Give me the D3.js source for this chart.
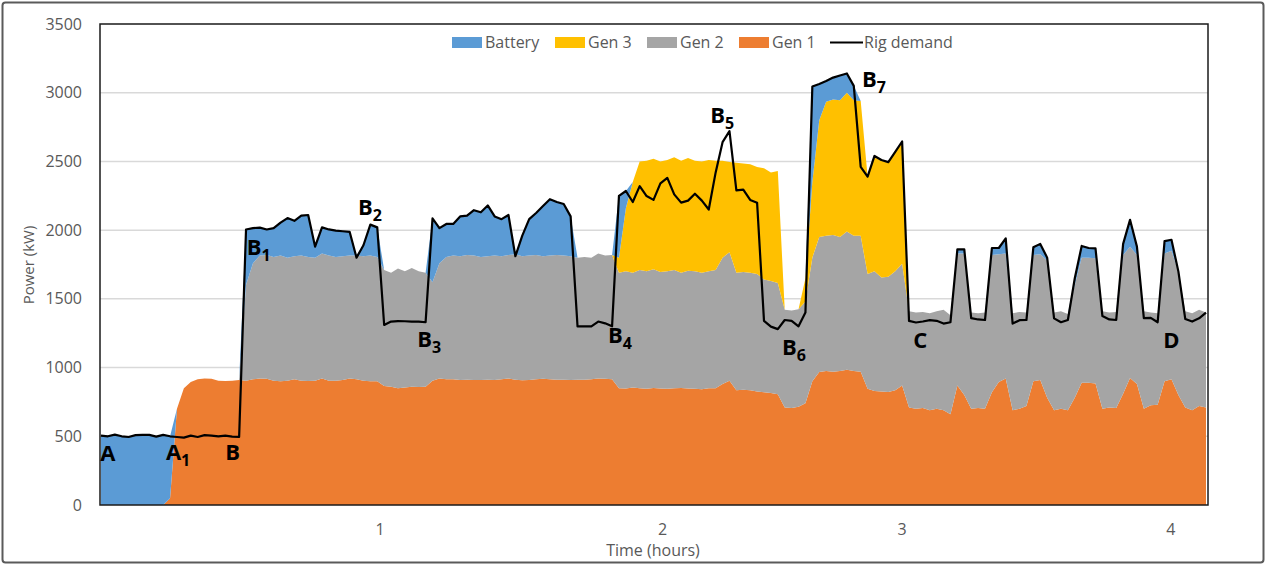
<!DOCTYPE html>
<html><head><meta charset="utf-8">
<script src="https://cdn.jsdelivr.net/npm/d3@7"></script>
<style>
body{margin:0;background:#fff;}
svg{display:block;font-family:"Open Sans","DejaVu Sans",sans-serif;}
</style>
</head><body>
<svg id="chart" width="1267" height="567"></svg>
<script>
// ---- data (kW per sample) ----
const gen1 = [0,0,0,0,0,0,0,0,0,0,
  50,700,850,895,915,920,918,905,902,905,910,
  905,915,920,918,905,900,905,915,905,902,905,920,905,905,910,920,915,905,900,900,
  865,860,850,855,860,858,860,
  905,920,915,915,910,912,910,910,912,910,915,920,912,908,910,915,918,915,912,912,910,912,912,915,920,918,915,
  850,848,855,850,845,852,848,845,850,852,848,845,842,850,850,880,905,835,838,835,825,820,815,805,
  710,705,715,740,900,968,975,970,975,985,975,970,845,830,825,822,835,870,
  710,700,705,690,700,690,660,870,800,700,705,700,820,895,920,690,700,720,900,910,780,690,700,690,780,890,890,885,700,710,705,810,925,880,700,725,730,900,915,800,710,690,720,710];
const gen2 = [0,0,0,0,0,0,0,0,0,0,0,0,0,0,0,0,0,0,0,0,0,
  695,845,895,902,900,915,895,895,910,903,895,910,910,900,900,895,900,905,915,905,
  845,830,870,845,865,842,830,
  715,840,890,900,900,908,905,895,898,905,895,900,913,902,905,905,892,900,908,903,900,888,893,885,910,897,905,
  840,852,835,860,855,863,847,855,860,838,857,855,848,850,860,920,935,855,857,855,855,820,815,810,
  710,710,710,740,900,982,985,995,975,1005,985,990,835,870,830,838,865,885,
  700,700,700,705,710,730,720,960,1030,700,690,700,1000,930,910,705,705,680,920,915,1000,710,710,700,820,910,910,910,710,690,700,1010,955,940,710,675,665,930,935,900,700,705,700,690];
const gen3 = [0,0,0,0,0,0,0,0,0,0,0,0,0,0,0,0,0,0,0,0,0,0,0,0,0,
  0,0,0,0,0,0,0,0,0,0,0,0,0,0,0,0,0,0,0,0,0,0,0,0,0,
  0,0,0,0,0,0,0,0,0,0,0,0,0,0,0,0,0,0,0,0,0,0,0,0,0,
  110,460,660,790,805,805,805,810,820,815,820,805,810,810,795,705,655,800,790,790,780,810,790,815,
  0,0,0,
  170,550,850,975,985,995,1010,985,980,710,830,850,830,865,885,
  0,0,0,0,0,0,0,0,0,0,0,0,0,0,0,0,0,0,0,0,0,0,0,0,0,0,0,0,0,0,0,0,0,0,0,0,0,0,0,0,0,0,0,0];
const battery = [505,500,512,500,495,508,510,510,498,510,
  450,0,0,0,0,0,0,0,0,0,0,
  405,255,203,185,210,240,288,258,290,305,80,190,190,192,182,173,0,80,225,215,
  0,0,0,0,0,0,0,
  465,255,240,230,290,285,330,325,370,285,270,290,0,150,265,305,365,410,385,375,290,0,0,0,0,0,0,
  450,125,0,0,0,0,0,0,0,0,0,0,0,0,0,0,0,0,0,0,0,0,0,0,0,0,0,
  0,695,264,150,160,180,140,105,0,
  0,0,0,0,0,0,0,0,0,0,0,0,0,
  30,30,0,0,0,50,45,110,0,0,0,55,75,20,0,0,0,50,85,70,73,0,0,0,80,195,60,0,0,0,90,80,0,0,0,0,0];
const rigDemand = [505,500,512,500,495,508,510,510,498,510,500,495,490,505,495,508,505,500,505,498,495,
  2005,2015,2018,2005,2015,2055,2088,2068,2105,2110,1880,2020,2005,1997,1992,1988,1800,1890,2040,2020,
  1310,1335,1338,1337,1334,1335,1330,
  2085,2015,2045,2045,2100,2105,2145,2130,2180,2100,2080,2110,1810,1960,2080,2125,2175,2225,2205,2190,2100,1300,1300,1300,1335,1322,1300,
  2250,2285,2205,2320,2248,2220,2340,2380,2260,2200,2215,2265,2215,2150,2420,2640,2720,2290,2295,2220,2200,1340,1298,1280,1346,1340,1300,
  1400,3045,3064,3085,3110,3125,3140,3050,2460,2390,2540,2510,2495,2570,2645,
  1340,1328,1335,1345,1340,1320,1330,1860,1860,1360,1350,1346,1870,1870,1940,1320,1345,1346,1875,1900,1800,1358,1330,1346,1650,1885,1870,1868,1375,1350,1346,1900,2075,1880,1360,1362,1330,1920,1930,1700,1353,1335,1358,1400];

const seriesKeys = ["gen1","gen2","gen3","battery"];
const legendKeys = ["battery","gen3","gen2","gen1"];
const seriesNames = {battery:"Battery", gen3:"Gen 3", gen2:"Gen 2", gen1:"Gen 1"};
const seriesColors = {battery:"#5B9BD5", gen3:"#FFC000", gen2:"#A5A5A5", gen1:"#ED7D31"};
const yTicks = [0,500,1000,1500,2000,2500,3000,3500];
const hourLabels = ["1","2","3","4"];
const hourTickIndex = [40.4, 81.3, 116.0, 154.9];
const annotations = [
  {t:"A", s:"", i:-0.1, v:320},
  {t:"A", s:"1", i:9.4, v:327},
  {t:"B", s:"", i:18.0, v:327},
  {t:"B", s:"1", i:21.1, v:1819},
  {t:"B", s:"2", i:37.2, v:2110},
  {t:"B", s:"3", i:45.8, v:1150},
  {t:"B", s:"4", i:73.4, v:1179},
  {t:"B", s:"5", i:88.2, v:2780},
  {t:"B", s:"6", i:98.6, v:1092},
  {t:"B", s:"7", i:110.2, v:3042},
  {t:"C", s:"", i:117.6, v:1143},
  {t:"D", s:"", i:153.8, v:1143}
];

// ---- build ----
const N = rigDemand.length;
const rows = d3.range(N).map(i => ({i, gen1:gen1[i], gen2:gen2[i], gen3:gen3[i], battery:battery[i], demand:rigDemand[i]}));

const svg = d3.select("#chart");
const L = 100, R = 1208, T = 24, B = 505;
const x = d3.scaleLinear().domain([0, N-1]).range([101, 1206]);
const y = d3.scaleLinear().domain([0, 3500]).range([B, T]);

// outer frame
svg.append("rect").attr("x",2.5).attr("y",2.5).attr("width",1261).attr("height",560)
  .attr("rx",3).attr("fill","#fff").attr("stroke","#5a5a5a").attr("stroke-width",2);

// gridlines
svg.append("g").selectAll("line").data(yTicks.filter(d=>d>0 && d<3500)).join("line")
  .attr("x1",L).attr("x2",R).attr("y1",d=>y(d)).attr("y2",d=>y(d))
  .attr("stroke","#d9d9d9").attr("stroke-width",1.5);

// stacked areas
const stack = d3.stack().keys(seriesKeys);
const layers = stack(rows);
const area = d3.area().x(d=>x(d.data.i)).y0(d=>y(d[0])).y1(d=>y(d[1])).curve(d3.curveLinear);
svg.append("g").selectAll("path").data(layers).join("path")
  .attr("d", area).attr("fill", d=>seriesColors[d.key]);

// demand line
const line = d3.line().x(d=>x(d.i)).y(d=>y(d.demand));
svg.append("path").datum(rows).attr("d", line).attr("fill","none")
  .attr("stroke","#000").attr("stroke-width",2.2).attr("stroke-linejoin","round");

// plot border
svg.append("rect").attr("x",L).attr("y",T).attr("width",R-L).attr("height",B-T)
  .attr("fill","none").attr("stroke","#1a1a1a").attr("stroke-width",1.5);

// y axis labels
const yAxis = d3.axisLeft(y).tickValues(yTicks).tickFormat(d3.format("d")).tickSize(0).tickPadding(18);
const gy = svg.append("g").attr("transform",`translate(${L},0)`).call(yAxis);
gy.select(".domain").remove();
gy.selectAll("text").attr("font-size",16).attr("fill","#595959").attr("font-family","Open Sans, sans-serif");

// x axis labels
const gx = svg.append("g").attr("transform",`translate(0,${B})`);
gx.selectAll("text").data(hourLabels).join("text")
  .attr("x",(d,k)=>x(hourTickIndex[k])).attr("y",30)
  .attr("text-anchor","middle").attr("font-size",16).attr("fill","#595959").text(d=>d);

// axis titles
svg.append("text").attr("transform","translate(34,265) rotate(-90)").attr("text-anchor","middle")
  .attr("font-size",15).attr("fill","#595959").text("Power (kW)");
svg.append("text").attr("x",653).attr("y",556).attr("text-anchor","middle")
  .attr("font-size",16).attr("fill","#595959").text("Time (hours)");

// legend
const legendX = {battery:452, gen3:555, gen2:647, gen1:739};
const lg = svg.append("g");
legendKeys.forEach(k=>{
  lg.append("rect").attr("x",legendX[k]).attr("y",37).attr("width",30).attr("height",11).attr("fill",seriesColors[k]);
  lg.append("text").attr("x",legendX[k]+33).attr("y",48).attr("font-size",16).attr("fill","#595959").text(seriesNames[k]);
});
lg.append("line").attr("x1",830).attr("x2",863).attr("y1",42.5).attr("y2",42.5).attr("stroke","#000").attr("stroke-width",2.2);
lg.append("text").attr("x",864).attr("y",48).attr("font-size",16).attr("fill","#595959").text("Rig demand");

// annotations
const ag = svg.append("g").attr("font-weight","bold").attr("fill","#000");
annotations.forEach(a=>{
  const t = ag.append("text").attr("x",x(a.i)).attr("y",y(a.v)).attr("font-size",22);
  t.append("tspan").text(a.t);
  if (a.s) t.append("tspan").attr("font-size",16).attr("dy",6).text(a.s);
});
</script>
</body></html>
